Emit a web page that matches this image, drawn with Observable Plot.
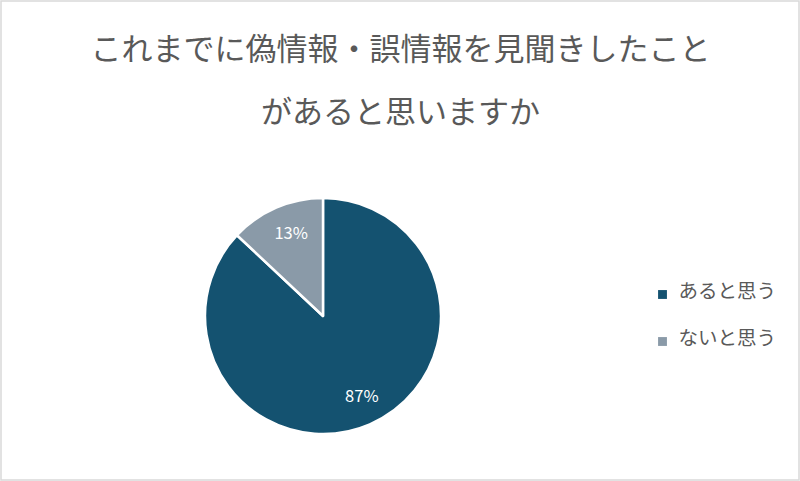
<!DOCTYPE html>
<html>
<head>
<meta charset="utf-8">
<script src="https://cdn.jsdelivr.net/npm/d3@7"></script>
<script src="https://cdn.jsdelivr.net/npm/@observablehq/plot@0.6"></script>
<style>
  html, body { margin: 0; padding: 0; background: #fff; }
  #chart svg { display: block; }
</style>
</head>
<body>
<div id="chart"></div>
<script>
// ---- data ----
const categories = ["あると思う", "ないと思う"];
const values = [87, 13];
const valueLabels = ["87%", "13%"];
const colors = ["#145270", "#8a9aa8"];
const titleLines = ["これまでに偽情報・誤情報を見聞きしたこと", "があると思いますか"];

// ---- layout ----
const W = 800, H = 481;
const cx = 323, cy = 316, R = 118, labelR = 89;
const font = "'Noto Sans CJK JP', 'Noto Sans', sans-serif";

const slices = d3.pie().sort(null).value(d => d.value)(
  categories.map((c, i) => ({category: c, value: values[i], label: valueLabels[i]}))
);
const sliceLabels = slices.map(s => {
  const a = (s.startAngle + s.endAngle) / 2;
  return {label: s.data.label, x: cx + Math.sin(a) * labelR, y: cy - Math.cos(a) * labelR};
});
const legend = categories.map((c, i) => ({category: c, x: 662, y: 294 + i * 47}));
const titles = titleLines.map((t, i) => ({text: t, x: 400, y: 50 + i * 63}));

function pieMark(index, scales) {
  const arc = d3.arc().innerRadius(0).outerRadius(R);
  const g = d3.create("svg:g")
    .attr("transform", `translate(${scales.x(cx)},${scales.y(cy)})`);
  g.selectAll("path")
    .data(slices)
    .join("path")
    .attr("d", arc)
    .attr("fill", d => scales.color(d.data.category))
    .attr("stroke", "#fff")
    .attr("stroke-width", 2.5)
    .attr("stroke-linejoin", "round");
  return g.node();
}

const chart = Plot.plot({
  width: W,
  height: H,
  margin: 0,
  style: {fontFamily: font, background: "#fff"},
  x: {domain: [0, W], range: [0, W], axis: null},
  y: {domain: [0, H], range: [0, H], axis: null},
  color: {domain: categories, range: colors},
  marks: [
    Plot.rect([{}], {x1: 0, x2: W, y1: 0, y2: H, fill: "none", stroke: "#d9d9d9", strokeWidth: 1.5, inset: 1}),
    Plot.text(titles, {x: "x", y: "y", text: "text", fontSize: 31, fill: "#595959"}),
    pieMark,
    Plot.text(sliceLabels, {x: "x", y: "y", text: "label", fill: "#fff", fontSize: 16.5, dx: 3, dy: -1}),
    Plot.dot(legend, {x: "x", y: "y", fill: "category", symbol: "square", r: 5}),
    Plot.text(legend, {x: d => d.x + 16, y: d => d.y - 3, text: "category", textAnchor: "start", fontSize: 19.5, fill: "#595959"})
  ]
});
document.getElementById("chart").appendChild(chart);
</script>
</body>
</html>
